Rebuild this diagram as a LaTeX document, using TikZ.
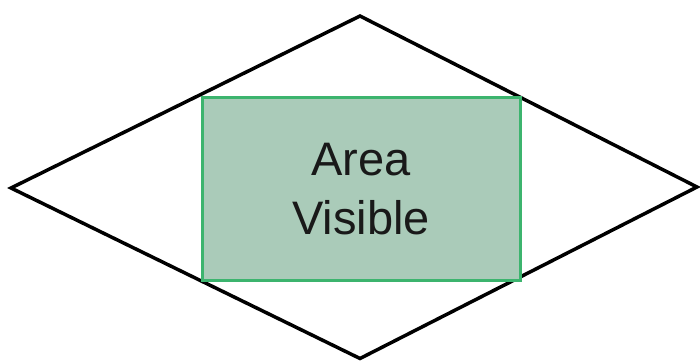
\documentclass[tikz,border=0pt]{standalone}
\usepackage{fontspec}
\setmainfont{Liberation Sans}
\definecolor{boxfill}{RGB}{170,203,185}
\definecolor{boxline}{RGB}{60,180,110}
\definecolor{txt}{RGB}{25,25,25}
\begin{document}
\begin{tikzpicture}[x=1pt,y=1pt,
  outline/.style={draw=black,line width=3.5pt,line join=miter},
  areabox/.style={draw=boxline,fill=boxfill,line width=3pt,minimum width=318pt,minimum height=183pt,inner sep=0pt,
    align=center,text=txt,font=\fontsize{47}{59}\selectfont}]
\useasboundingbox (0,0) rectangle (700,360);
\coordinate (T) at (360,344);
\coordinate (L) at (11,172);
\coordinate (B) at (360,1.5);
\coordinate (R) at (697,173);
\draw[outline] (T) -- (R) -- (B) -- (L) -- cycle;
\node[areabox] (area) at (361,171) {Area\\Visible};
\end{tikzpicture}
\end{document}
